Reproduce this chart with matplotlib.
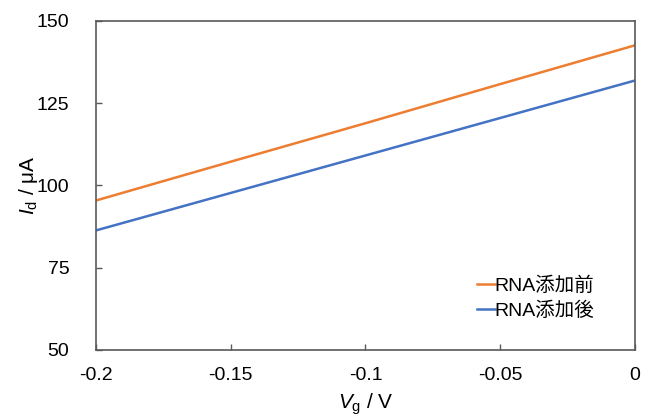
import numpy as np
import matplotlib
matplotlib.use('Agg')
import matplotlib.pyplot as plt

plt.rcParams['font.family'] = ['Liberation Sans', 'Noto Sans CJK JP']
plt.rcParams['mathtext.fontset'] = 'custom'
plt.rcParams['mathtext.rm'] = 'Liberation Sans'
plt.rcParams['mathtext.it'] = 'Liberation Sans:italic'

# data
vg = [-0.2, -0.15, -0.1, -0.05, 0.0]
id_before = [95.4, 107.2, 118.9, 130.8, 142.6]
id_after = [86.3, 97.7, 109.1, 120.5, 131.9]
labels = ['RNA添加前', 'RNA添加後']

fig = plt.figure(figsize=(6.52, 4.19), dpi=100)
ax = fig.add_axes([0.147, 0.165, 0.827, 0.785])

ax.plot(vg, id_before, color='#ED7D31', lw=1.8, label=labels[0])
ax.plot(vg, id_after, color='#4472C4', lw=1.8, label=labels[1])

ax.set_xlim(-0.2, 0)
ax.set_ylim(50, 150)
ax.set_xticks([-0.2, -0.15, -0.1, -0.05, 0])
ax.set_xticklabels(['-0.2', '-0.15', '-0.1', '-0.05', '0'])
ax.set_yticks([50, 75, 100, 125, 150])

for s in ax.spines.values():
    s.set_color('#595959')
    s.set_linewidth(1.2)
ax.tick_params(direction='in', length=4, width=1, color='#595959',
               labelsize=14, labelcolor='black')
ax.tick_params(axis='x', pad=12)
ax.tick_params(axis='y', pad=19)

ax.set_xlabel(r'$V_\mathrm{g}$ / V', fontsize=15, labelpad=6)
ax.set_ylabel(r'$I_\mathrm{d}$ / μA', fontsize=15, labelpad=-2)

ax.legend(loc='lower right', bbox_to_anchor=(0.95, 0.05), frameon=False,
          fontsize=14, handlelength=0.9, handletextpad=0.0,
          labelspacing=0.35, borderpad=0.2)

fig.savefig('out.png', dpi=100)
